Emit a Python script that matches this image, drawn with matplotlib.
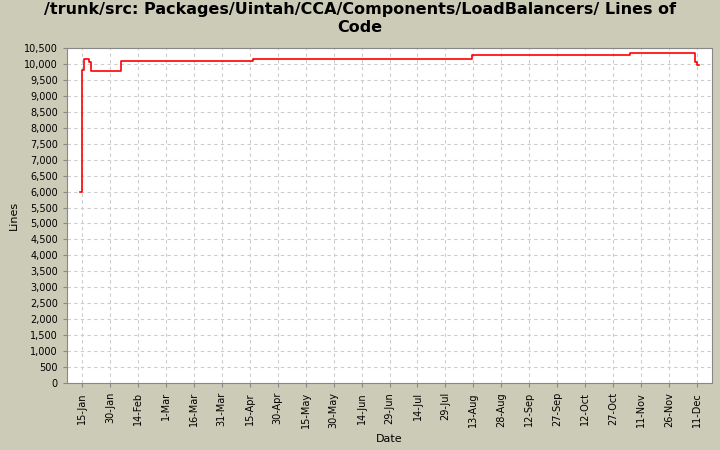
import matplotlib
matplotlib.use("Agg")
import matplotlib.pyplot as plt
import matplotlib.dates as mdates
from matplotlib.ticker import MultipleLocator, FuncFormatter
import datetime as dt

dates = ["2007-01-14", "2007-01-15", "2007-01-16", "2007-01-19", "2007-01-20",
         "2007-02-05", "2007-04-17", "2007-08-12", "2007-11-05", "2007-12-10",
         "2007-12-11", "2007-12-12"]
lines = [6000, 9800, 10150, 10050, 9780, 10090, 10170, 10290, 10330, 10050, 9960, 9960]
tick_dates = ["2007-01-15", "2007-01-30", "2007-02-14", "2007-03-01", "2007-03-16",
              "2007-03-31", "2007-04-15", "2007-04-30", "2007-05-15", "2007-05-30",
              "2007-06-14", "2007-06-29", "2007-07-14", "2007-07-29", "2007-08-13",
              "2007-08-28", "2007-09-12", "2007-09-27", "2007-10-12", "2007-10-27",
              "2007-11-11", "2007-11-26", "2007-12-11"]

d = [dt.datetime.fromisoformat(s) for s in dates]
td = [dt.datetime.fromisoformat(s) for s in tick_dates]

bg = "#CBCBB7"
fig = plt.figure(figsize=(7.2, 4.5), dpi=100, facecolor=bg)
ax = fig.add_axes([67/720, 1-383/450, 645/720, 335/450])
ax.set_facecolor("white")
ax.step(d, lines, where="post", color="red", lw=1.2)
ax.set_xlim(dt.datetime(2007, 1, 7), dt.datetime(2007, 12, 19))
ax.set_ylim(0, 10500)
ax.yaxis.set_major_locator(MultipleLocator(500))
ax.yaxis.set_major_formatter(FuncFormatter(lambda v, p: f"{int(v):,}"))
ax.set_xticks(td)
ax.xaxis.set_major_formatter(mdates.DateFormatter("%-d-%b"))
plt.setp(ax.get_xticklabels(), rotation=90)
ax.tick_params(labelsize=7, length=3, color="#888888")
ax.grid(True, color="#CCCCCC", ls=(0, (3, 3)), lw=0.8)
for s in ax.spines.values():
    s.set_color("#888888")
ax.set_xlabel("Date", fontsize=8)
ax.set_ylabel("Lines", fontsize=8)
fig.suptitle("/trunk/src: Packages/Uintah/CCA/Components/LoadBalancers/ Lines of\nCode",
             fontsize=11.5, fontweight="bold", y=0.995, linespacing=1.2)
fig.savefig("out.png", dpi=100, facecolor=bg)
